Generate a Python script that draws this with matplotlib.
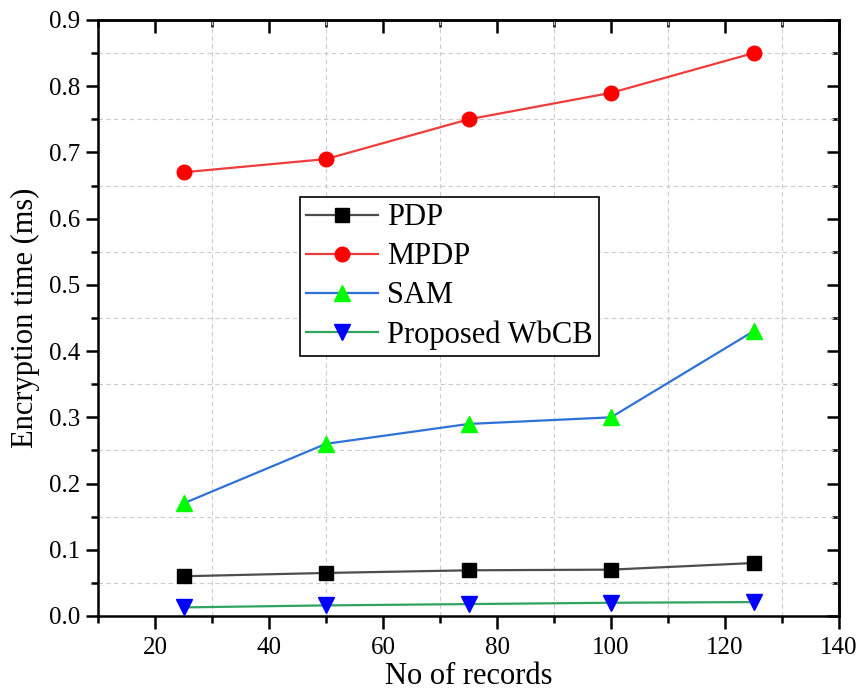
import matplotlib
matplotlib.use("Agg")
import matplotlib.pyplot as plt
from matplotlib.ticker import MultipleLocator, FormatStrFormatter

plt.rcParams['font.family'] = ['Liberation Serif', 'DejaVu Serif']

records = [25, 50, 75, 100, 125]
pdp = [0.060, 0.065, 0.069, 0.070, 0.080]
mpdp = [0.67, 0.69, 0.75, 0.79, 0.85]
sam = [0.17, 0.26, 0.29, 0.30, 0.43]
wbcb = [0.013, 0.016, 0.018, 0.020, 0.021]

fig = plt.figure(figsize=(8.59, 6.94), dpi=100)
ax = fig.add_axes([98/859, 1 - 616/694, (839-98)/859, (616-20)/694])

lw = 1.6
ax.plot(records, pdp, color='#4d4d4d', lw=lw, marker='s', ms=10, mfc='black', mec='black', label='PDP', zorder=3)
ax.plot(records, mpdp, color='#f03c3c', lw=lw, marker='o', ms=10.5, mfc='#ff0000', mec='#ff0000', label='MPDP', zorder=3)
ax.plot(records, sam, color='#2e72d8', lw=lw, marker='^', ms=12, mfc='#00ff00', mec='#00ff00', label='SAM', zorder=3)
ax.plot(records, wbcb, color='#2fa460', lw=lw, marker='v', ms=12, mfc='#0000ff', mec='#0000ff', label='Proposed WbCB', zorder=3)

ax.set_xlim(10, 140)
ax.set_ylim(0, 0.9)
ax.xaxis.set_major_locator(MultipleLocator(20))
ax.xaxis.set_minor_locator(MultipleLocator(10))
ax.yaxis.set_major_locator(MultipleLocator(0.1))
ax.yaxis.set_minor_locator(MultipleLocator(0.05))
ax.yaxis.set_major_formatter(FormatStrFormatter('%.1f'))

ax.grid(True, which='minor', color='#cccccc', linestyle=(0, (4, 3)), lw=0.8)
ax.grid(False, which='major')
ax.set_axisbelow(True)

for s in ax.spines.values():
    s.set_linewidth(1.8)

ax.tick_params(which='major', direction='out', length=9, width=1.8, labelsize=18, pad=4, top=False, right=False)
ax.tick_params(axis='x', which='major', pad=6)
ax.tick_params(which='minor', direction='out', length=5, width=1.8, top=False, right=False)
ax2 = ax.secondary_yaxis('right')
ax2.yaxis.set_major_locator(MultipleLocator(0.1))
ax2.yaxis.set_minor_locator(MultipleLocator(0.05))
ax2.tick_params(which='major', direction='in', length=9, width=1.8, labelright=False)
ax2.tick_params(which='minor', direction='in', length=5, width=1.8)
ax2.spines['right'].set_linewidth(1.8)
ax3 = ax.secondary_xaxis('top')
ax3.xaxis.set_major_locator(MultipleLocator(20))
ax3.xaxis.set_minor_locator(MultipleLocator(10))
ax3.tick_params(which='major', direction='in', length=9, width=1.8, labeltop=False)
ax3.tick_params(which='minor', direction='in', length=5, width=1.8)
ax3.spines['top'].set_linewidth(1.8)

ax.set_xlabel('No of records', fontsize=22, labelpad=2)
ax.set_ylabel('Encryption time (ms)', fontsize=22, labelpad=6)

leg = ax.legend(loc='lower left', bbox_to_anchor=(0.2726, 0.436), borderaxespad=0, fontsize=22,
                frameon=True, fancybox=False, edgecolor='black', handlelength=2.35,
                handletextpad=0.3, labelspacing=0.33, borderpad=0.2, framealpha=1)
leg.get_frame().set_linewidth(1.2)

fig.savefig('out.png', dpi=100)
